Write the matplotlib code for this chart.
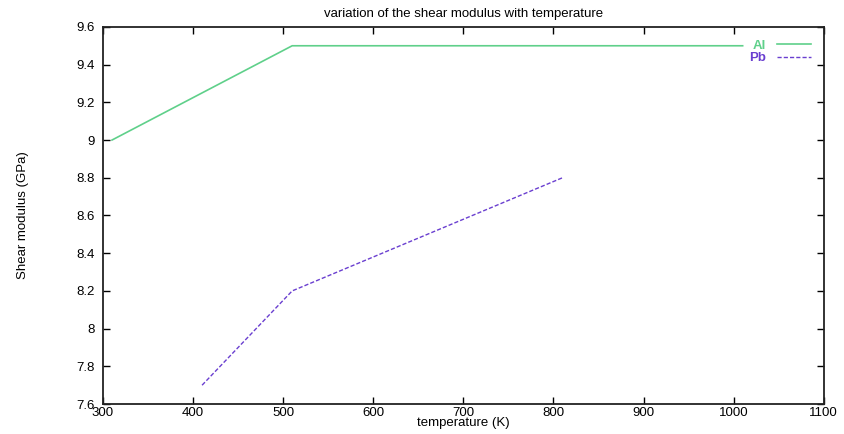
import matplotlib
matplotlib.use("Agg", force=True)
import matplotlib.pyplot as plt

plt.rcParams["font.family"] = ["Liberation Sans", "DejaVu Sans"]

# data
al_temp = [310, 510, 1010]
al_shear = [9.0, 9.5, 9.5]
pb_temp = [410, 510, 810]
pb_shear = [7.7, 8.2, 8.8]

x_ticks = [300, 400, 500, 600, 700, 800, 900, 1000, 1100]
y_ticks = [7.6, 7.8, 8.0, 8.2, 8.4, 8.6, 8.8, 9.0, 9.2, 9.4, 9.6]
y_labels = ["7.6", "7.8", "8", "8.2", "8.4", "8.6", "8.8", "9", "9.2", "9.4", "9.6"]

AL_COLOR = "#5fd08a"
PB_COLOR = "#6a3fd0"

fig = plt.figure(figsize=(8.44, 4.34), dpi=100)
ax = fig.add_axes([0.122, 0.069, 0.854, 0.869])

ax.plot(al_temp, al_shear, color=AL_COLOR, lw=1.2, label="Al")
ax.plot(pb_temp, pb_shear, color=PB_COLOR, lw=1.0, ls=(0, (3, 1.5)), label="Pb")

ax.set_xlim(300, 1100)
ax.set_ylim(7.6, 9.6)
ax.set_xticks(x_ticks)
ax.set_yticks(y_ticks)
ax.set_yticklabels(y_labels)
ax.tick_params(direction="in", top=True, right=True, length=5, width=1, labelsize=9.5)
ax.tick_params(axis="x", pad=2)
ax.tick_params(axis="y", pad=6)
for s in ax.spines.values():
    s.set_linewidth(1.3)
    s.set_color("#222222")

ax.set_title("variation of the shear modulus with temperature", fontsize=9.5, pad=7)
ax.set_xlabel("temperature (K)", fontsize=9.5, labelpad=-1)
ax.set_ylabel("Shear modulus (GPa)", fontsize=9.5, labelpad=34)

leg = ax.legend(loc="upper right", frameon=False, markerfirst=False, fontsize=9.5,
                handlelength=2.6, handletextpad=0.8, borderaxespad=0.0,
                labelspacing=0.0, bbox_to_anchor=(0.99, 0.98))
for txt, c in zip(leg.get_texts(), [AL_COLOR, PB_COLOR]):
    txt.set_color(c)
    txt.set_fontweight("bold")

fig.savefig("out.png", dpi=100)
